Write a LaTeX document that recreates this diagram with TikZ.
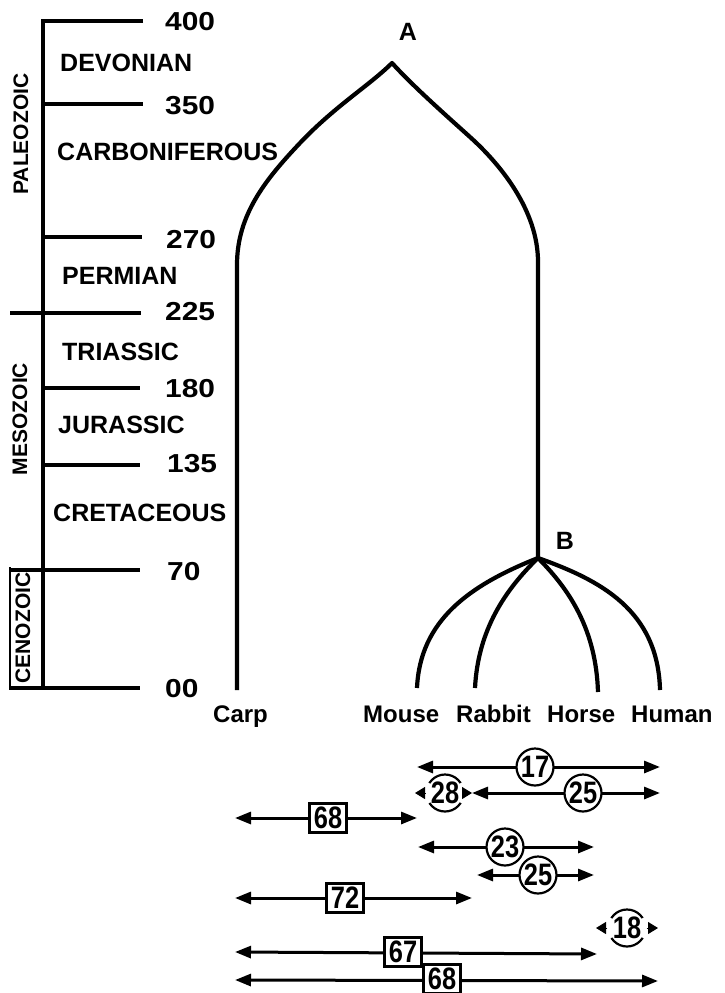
\documentclass[tikz,border=0pt]{standalone}
\usepackage{fontspec}
\usepackage{graphicx}
\setmainfont{Liberation Sans}
\usetikzlibrary{arrows.meta}
\newcommand\dignum[1]{\scalebox{0.82}[1]{#1}}
\newcommand\widen[1]{\scalebox{1.15}[1]{#1}}
\begin{document}
\begin{tikzpicture}[x=1pt,y=-1pt,
  lab/.style={font=\fontsize{25}{25}\selectfont\bfseries, inner sep=0pt, anchor=west},
  num/.style={font=\fontsize{26}{26}\selectfont\bfseries, inner sep=0pt, anchor=west},
  spec/.style={font=\fontsize{24}{24}\selectfont\bfseries, inner sep=0pt, anchor=base west},
  era/.style={font=\fontsize{21}{21}\selectfont\bfseries, inner sep=0pt, rotate=90},
  tickline/.style={line width=3.4pt},
  branch/.style={line width=4.2pt, line join=round},
  dist/.style={line width=3pt, {Triangle[length=16pt,width=12pt]}-{Triangle[length=16pt,width=12pt]}},
  minihead/.style={line width=1pt, -{Triangle[length=10pt,width=12pt]}},
  circ/.style={circle, draw, line width=2.2pt, fill=white, minimum size=37pt, inner sep=0pt, font=\fontsize{31}{31}\selectfont\bfseries},
  brokencirc/.style={circ, dash pattern=on 37.1pt off 21pt, dash phase=47.6pt},
  sq/.style={rectangle, draw, line width=2.2pt, fill=white, minimum width=37pt, minimum height=29pt, inner sep=0pt, font=\fontsize{31}{31}\selectfont\bfseries},
]
\useasboundingbox (0,0) rectangle (724,993);

% ---------- time scale ----------
\coordinate (t400) at (143,21);
\coordinate (axtop) at (43,21);
\coordinate (axbot) at (43,688);
\draw[tickline, line join=miter] (t400) -- (axtop) -- (axbot);
\coordinate (t350a) at (43,104);  \coordinate (t350b) at (143,104);
\coordinate (t270a) at (43,237);  \coordinate (t270b) at (142,237);
\coordinate (t225a) at (10,313);  \coordinate (t225b) at (141,313);
\coordinate (t180a) at (43,388);  \coordinate (t180b) at (140,388);
\coordinate (t135a) at (43,465);  \coordinate (t135b) at (140,465);
\coordinate (t70a) at (10,570);   \coordinate (t70b) at (140,570);
\coordinate (t00a) at (10,688);   \coordinate (t00b) at (140,688);
\foreach \t in {350,270,225,180,135,70,00}
  \draw[tickline] (t\t a) -- (t\t b);
\coordinate (cenotop) at (10,567);
\coordinate (cenobot) at (10,690);
\draw[line width=2.4pt] (cenotop) -- (cenobot);

\node[num] (n400) at (165,22) {\widen{400}};
\node[num] (n350) at (165,106) {\widen{350}};
\node[num] (n270) at (166,240) {\widen{270}};
\node[num] (n225) at (165,312) {\widen{225}};
\node[num] (n180) at (165,389) {\widen{180}};
\node[num] (n135) at (167,464) {\widen{135}};
\node[num] (n70) at (167,572) {\widen{70}};
\node[num] (n00) at (165,689) {\widen{00}};

\node[lab] (dev) at (60,63) {DEVONIAN};
\node[lab] (carb) at (57,152) {CARBONIFEROUS};
\node[lab] (perm) at (62,276) {PERMIAN};
\node[lab] (tria) at (62,352) {TRIASSIC};
\node[lab] (jura) at (58,425) {JURASSIC};
\node[lab] (cret) at (53,513) {CRETACEOUS};

\node[era] (paleo) at (21,134) {PALEOZOIC};
\node[era] (meso) at (20,419) {MESOZOIC};
\node[era] (ceno) at (23,628) {CENOZOIC};

% ---------- tree ----------
\coordinate (A) at (392,63);
\coordinate (B) at (538,558);
\coordinate (carp) at (237,690);
\coordinate (mouse) at (417,688);
\coordinate (rabbit) at (475,688);
\coordinate (horse) at (598,692);
\coordinate (human) at (660,690);

\draw[branch] (carp) -- (237,265) .. controls (237,215) and (265,180) .. (300,143)
  .. controls (335,106) and (370,85) .. (A)
  .. controls (412,85) and (440,110) .. (470,137)
  .. controls (500,164) and (538,210) .. (538,262) -- (B);
\draw[branch] (B) .. controls (470,585) and (420,620) .. (mouse);
\draw[branch] (B) .. controls (505,590) and (478,630) .. (rabbit);
\draw[branch] (B) .. controls (570,590) and (596,630) .. (horse);
\draw[branch] (B) .. controls (600,580) and (658,610) .. (human);

\node[lab, anchor=center] (labA) at (408,32) {A};
\node[lab, anchor=center] (labB) at (565,541) {B};

\node[spec] (lcarp) at (213,722) {Carp};
\node[spec] (lmouse) at (363,722) {Mouse};
\node[spec] (lrabbit) at (456,722) {Rabbit};
\node[spec] (lhorse) at (547,722) {Horse};
\node[spec] (lhuman) at (631,722) {Human};

% ---------- distances ----------
% row 1
\coordinate (r1a) at (417,767); \coordinate (r1b) at (660,767);
\draw[dist] (r1a) -- (r1b);
\node[circ] (c17) at (535,767) {\dignum{17}};
% row 2
\coordinate (r2a) at (472,793); \coordinate (r2b) at (660,793);
\draw[dist] (r2a) -- (r2b);
\node[circ] (c25a) at (583,793) {\dignum{25}};
\coordinate (r2m) at (415,793); \coordinate (r2r) at (472,793);
\node[brokencirc] (c28) at (445,793) {\dignum{28}};
\draw[minihead] (c28.west) -- (r2m);
\draw[minihead] (c28.east) -- (r2r);
% row 3
\coordinate (r3a) at (235,818); \coordinate (r3b) at (417,818);
\draw[dist] (r3a) -- (r3b);
\node[sq] (b68a) at (328,818) {\dignum{68}};
% row 4
\coordinate (r4a) at (418,847); \coordinate (r4b) at (594,847);
\draw[dist] (r4a) -- (r4b);
\node[circ] (c23) at (505,847) {\dignum{23}};
% row 5
\coordinate (r5a) at (477,875); \coordinate (r5b) at (594,875);
\draw[dist] (r5a) -- (r5b);
\node[circ] (c25b) at (538,875) {\dignum{25}};
% row 6
\coordinate (r6a) at (235,898); \coordinate (r6b) at (472,898);
\draw[dist] (r6a) -- (r6b);
\node[sq] (b72) at (345,898) {\dignum{72}};
% row 7
\coordinate (r7a) at (596,928); \coordinate (r7b) at (658,928);
\node[brokencirc] (c18) at (627,928) {\dignum{18}};
\draw[minihead] (c18.west) -- (r7a);
\draw[minihead] (c18.east) -- (r7b);
% row 8
\coordinate (r8a) at (235,952); \coordinate (r8b) at (597,954);
\draw[dist] (r8a) -- (r8b);
\node[sq] (b67) at (403,952) {\dignum{67}};
% row 9
\coordinate (r9a) at (235,980); \coordinate (r9b) at (658,981);
\draw[dist] (r9a) -- (r9b);
\node[sq] (b68b) at (442,979) {\dignum{68}};
\end{tikzpicture}
\end{document}
